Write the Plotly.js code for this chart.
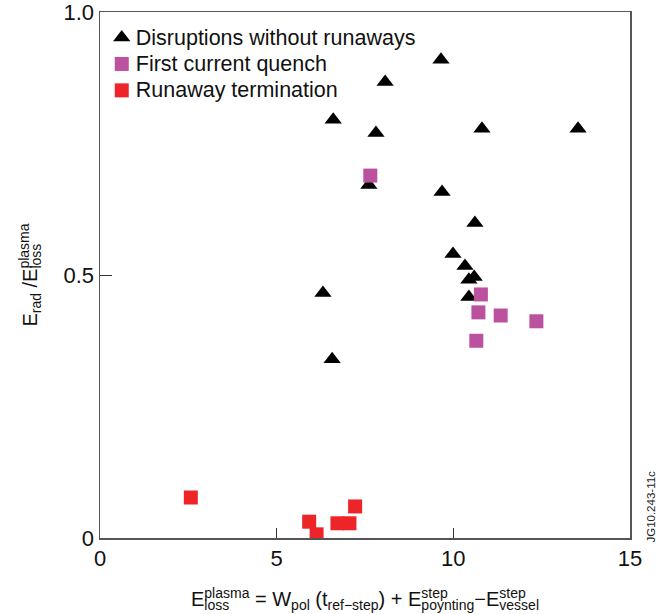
<!DOCTYPE html>
<html>
<head>
<meta charset="utf-8">
<script src="https://cdn.plot.ly/plotly-3.0.1.min.js"></script>
<style>html,body{margin:0;padding:0;background:#fff;}#chart{width:664px;height:614px;}</style>
</head>
<body>
<div id="chart"></div>
<script>
// Disruptions without runaways
const disruptX = [9.65, 8.07, 6.60, 7.81, 10.81, 13.53, 7.61, 9.68, 10.61, 9.99, 10.33, 10.59, 10.44, 10.44, 6.31, 6.57];
const disruptY = [0.909, 0.867, 0.795, 0.770, 0.778, 0.778, 0.671, 0.658, 0.599, 0.540, 0.517, 0.496, 0.491, 0.458, 0.466, 0.340];
// First current quench
const quenchX = [7.65, 10.78, 10.71, 11.34, 12.35, 10.65];
const quenchY = [0.689, 0.463, 0.429, 0.423, 0.412, 0.375];
// Runaway termination
const runawayX = [2.57, 5.92, 6.13, 6.72, 7.06, 7.22];
const runawayY = [0.077, 0.031, 0.007, 0.028, 0.028, 0.060];

const xTicks = [0, 5, 10, 15];
const xTickText = ['0', '5', '10', '15'];
const yTicks = [0, 0.5, 1.0];
const yTickText = ['0', '0.5', '1.0'];

const FONT = 'Liberation Sans, Arial, Helvetica, sans-serif';

const traces = [
  {x: disruptX, y: disruptY, name: 'Disruptions without runaways', type: 'scatter', mode: 'markers',
   marker: {symbol: 'triangle-up', size: 15, color: '#000000'}},
  {x: quenchX, y: quenchY, name: 'First current quench', type: 'scatter', mode: 'markers',
   marker: {symbol: 'square', size: 14, color: '#bb529f'}},
  {x: runawayX, y: runawayY, name: 'Runaway termination', type: 'scatter', mode: 'markers',
   marker: {symbol: 'square', size: 14, color: '#ee2528'}}
];

const layout = {
  width: 664, height: 614,
  margin: {l: 100, r: 34, t: 12, b: 76},
  paper_bgcolor: '#ffffff', plot_bgcolor: '#ffffff',
  font: {family: FONT, color: '#111', size: 20},
  showlegend: true,
  legend: {x: -0.008, y: 0.986, xanchor: 'left', yanchor: 'top', bgcolor: 'rgba(0,0,0,0)',
           font: {size: 18, family: FONT, color: '#111'}, tracegroupgap: 0, itemsizing: 'trace'},
  xaxis: {range: [0, 15], tickvals: xTicks, ticktext: xTickText, ticks: 'inside', ticklen: 10,
          tickcolor: '#333', showline: true, linecolor: '#555', linewidth: 1.5, mirror: true,
          showgrid: false, zeroline: false, tickfont: {size: 22, family: FONT}, ticklabeloverflow: 'allow',
          title: {text: 'E<sub>loss</sub><sup>plasma</sup> = W<sub>pol</sub> (t<sub>ref\u2212step</sub>) + E<sup>step</sup><sub>poynting</sub>\u2212E<sup>step</sup><sub>vessel</sub>',
                  font: {size: 20, family: FONT}, standoff: 22}},
  yaxis: {range: [0, 1.0], tickvals: yTicks, ticktext: yTickText, ticks: 'inside', ticklen: 12,
          tickcolor: '#333', showline: true, linecolor: '#555', linewidth: 1.5, mirror: true,
          showgrid: false, zeroline: false, tickfont: {size: 22, family: FONT}, ticklabeloverflow: 'allow',
          title: {text: 'E<sub>rad</sub> /E<sub>loss</sub><sup>plasma</sup>', font: {size: 20, family: FONT}, standoff: 20}},
  annotations: [
    {text: 'JG10.243-11c', xref: 'paper', yref: 'paper', x: 1.025, y: -0.012, xanchor: 'left', yanchor: 'bottom',
     textangle: -90, showarrow: false, font: {size: 11.5, family: FONT, color: '#222'}}
  ]
};

// Stack a superscript directly above an immediately preceding subscript (or vice versa)
function stackScripts(textEl) {
  if (!textEl) return;
  const kind = s => {
    if (!s || s.nodeName.toLowerCase() !== 'tspan') return null;
    const dy = s.getAttribute('dy');
    if (dy === '0.3em') return 'sub';
    if (dy === '-0.6em') return 'sup';
    return null;
  };
  const isBlank = n => n.nodeType === 3 && n.textContent.replace(/\u200b/g, '') === '';
  const spans = Array.from(textEl.querySelectorAll('tspan'));
  for (const first of spans) {
    const k1 = kind(first);
    if (!k1 || first.dataset.stacked) continue;
    const reset = first.nextSibling;
    if (!reset || reset.nodeName.toLowerCase() !== 'tspan' || kind(reset)) continue;
    let n = reset.nextSibling;
    while (n && isBlank(n)) n = n.nextSibling;
    const k2 = kind(n);
    if (!k2 || k2 === k1) continue;
    const second = n;
    const l1 = first.getComputedTextLength();
    const l2 = second.getComputedTextLength();
    second.setAttribute('dx', (-l1).toFixed(2));
    second.dataset.stacked = '1';
    const reset2 = second.nextSibling;
    if (l1 > l2 && reset2 && reset2.nodeName.toLowerCase() === 'tspan') {
      reset2.setAttribute('dx', (l1 - l2).toFixed(2));
    }
  }
}

Plotly.newPlot('chart', traces, layout, {displayModeBar: false, staticPlot: true}).then(gd => {
  stackScripts(gd.querySelector('.xtitle'));
  stackScripts(gd.querySelector('.ytitle'));
  gd.querySelectorAll('.legend [clip-path]').forEach(e => e.removeAttribute('clip-path'));
  gd.querySelectorAll('.legend .legendtext').forEach(t => { t.style.fontSize = '21.5px'; });
  gd.querySelectorAll('.legend .legendpoints').forEach(p => { p.setAttribute('transform', 'translate(6,0)'); });
});
</script>
</body>
</html>
